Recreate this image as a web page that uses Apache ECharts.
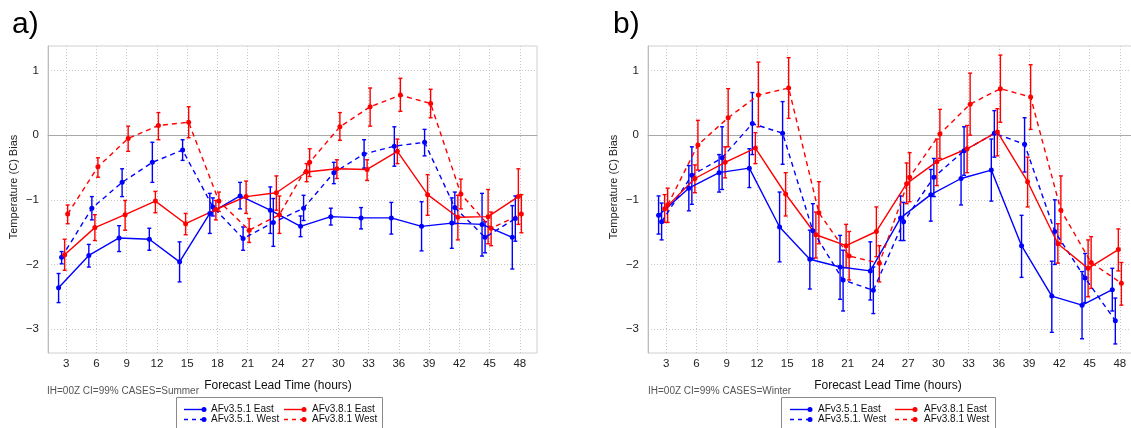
<!DOCTYPE html>
<html>
<head>
<meta charset="utf-8">
<script src="https://cdn.jsdelivr.net/npm/echarts@6/dist/echarts.min.js"></script>
<style>
  html, body { margin: 0; padding: 0; background: #ffffff; }
  #chart { width: 1131px; height: 428px; }
</style>
</head>
<body>
<div id="chart"></div>
<script>
// ---------------- DATA ----------------
const hours = [3, 6, 9, 12, 15, 18, 21, 24, 27, 30, 33, 36, 39, 42, 45, 48];
// small horizontal offset (hours) of each experiment around the lead time
const jitter = [-0.75, -0.45, -0.15, 0.15];
const yTicks = [-3, -2, -1, 0, 1];
const seriesNames = ['AFv3.5.1 East', 'AFv3.5.1. West', 'AFv3.8.1 East', 'AFv3.8.1 West'];
const panelLabels = ['a)', 'b)'];
const captions = ['IH=00Z CI=99% CASES=Summer', 'IH=00Z CI=99% CASES=Winter'];
const xTitle = 'Forecast Lead Time (hours)';
const yTitle = 'Temperature (C) Bias';

// Panel a (Summer)
const sumE351   = [-2.36, -1.86, -1.59, -1.61, -1.96, -1.21, -0.94, -1.16, -1.41, -1.26, -1.28, -1.28, -1.41, -1.36, -1.38, -1.58];
const sumE351Lo = [-2.59, -2.04, -1.80, -1.78, -2.27, -1.52, -1.14, -1.52, -1.57, -1.39, -1.45, -1.53, -1.79, -1.75, -1.87, -2.07];
const sumE351Hi = [-2.14, -1.69, -1.40, -1.44, -1.65, -0.90, -0.73, -0.80, -1.25, -1.13, -1.12, -1.04, -1.03, -0.97, -0.90, -1.09];

const sumW351   = [-1.89, -1.13, -0.73, -0.42, -0.23, -1.11, -1.60, -1.35, -1.13, -0.58, -0.29, -0.17, -0.11, -1.12, -1.58, -1.29];
const sumW351Lo = [-1.99, -1.31, -0.95, -0.73, -0.39, -1.25, -1.78, -1.72, -1.32, -0.75, -0.51, -0.48, -0.32, -1.37, -1.82, -1.64];
const sumW351Hi = [-1.80, -0.95, -0.52, -0.11, -0.07, -0.97, -1.42, -0.98, -0.93, -0.42, -0.07, 0.13, 0.09, -0.88, -1.34, -0.94];

const sumE381   = [-1.85, -1.43, -1.23, -1.02, -1.37, -1.15, -0.95, -0.89, -0.57, -0.52, -0.53, -0.25, -0.92, -1.27, -1.26, -0.95];
const sumE381Lo = [-2.09, -1.63, -1.47, -1.20, -1.54, -1.31, -1.21, -1.16, -0.72, -0.67, -0.70, -0.44, -1.24, -1.62, -1.68, -1.38];
const sumE381Hi = [-1.61, -1.23, -1.01, -0.87, -1.21, -1.01, -0.71, -0.63, -0.44, -0.38, -0.38, -0.06, -0.61, -0.93, -0.84, -0.52];

const sumW381   = [-1.22, -0.49, -0.05, 0.15, 0.20, -1.02, -1.47, -1.23, -0.42, 0.13, 0.44, 0.62, 0.49, -0.91, -1.44, -1.22];
const sumW381Lo = [-1.37, -0.65, -0.25, -0.07, -0.04, -1.18, -1.66, -1.52, -0.64, -0.08, 0.14, 0.37, 0.27, -1.14, -1.71, -1.51];
const sumW381Hi = [-1.08, -0.35, 0.14, 0.35, 0.44, -0.88, -1.29, -0.94, -0.21, 0.35, 0.73, 0.88, 0.71, -0.68, -1.19, -0.92];

// Panel b (Winter)
const winE351   = [-1.24, -0.82, -0.58, -0.51, -1.42, -1.92, -2.04, -2.10, -1.28, -0.92, -0.67, -0.54, -1.71, -2.49, -2.63, -2.39];
const winE351Lo = [-1.53, -1.17, -0.88, -0.81, -1.96, -2.38, -2.54, -2.55, -1.63, -1.33, -1.08, -1.02, -2.20, -3.05, -3.15, -2.72];
const winE351Hi = [-0.94, -0.47, -0.30, -0.21, -0.88, -1.47, -1.55, -1.65, -0.94, -0.53, -0.25, -0.06, -1.24, -1.95, -2.11, -2.06];

const winW351   = [-1.34, -0.62, -0.35, 0.18, 0.03, -1.48, -2.24, -2.40, -1.34, -0.65, -0.24, 0.03, -0.14, -1.49, -2.21, -2.87];
const winW351Lo = [-1.62, -1.07, -0.84, -0.30, -0.45, -1.91, -2.72, -2.76, -1.63, -0.95, -0.62, -0.34, -0.57, -2.00, -2.59, -3.23];
const winW351Hi = [-1.05, -0.18, 0.13, 0.66, 0.52, -1.06, -1.78, -2.04, -1.04, -0.36, 0.13, 0.38, 0.27, -1.00, -1.83, -2.52];

const winE381   = [-1.14, -0.67, -0.42, -0.20, -0.91, -1.54, -1.71, -1.49, -0.75, -0.41, -0.21, 0.05, -0.72, -1.68, -2.06, -1.77];
const winE381Lo = [-1.35, -0.89, -0.66, -0.44, -1.25, -1.90, -2.05, -1.88, -1.06, -0.78, -0.58, -0.32, -1.11, -1.98, -2.50, -2.10];
const winE381Hi = [-0.92, -0.46, -0.18, 0.04, -0.58, -1.19, -1.38, -1.11, -0.43, -0.06, 0.15, 0.41, -0.34, -1.37, -1.62, -1.45];

const winW381   = [-1.08, -0.15, 0.27, 0.62, 0.73, -1.20, -1.87, -1.98, -0.65, 0.02, 0.48, 0.72, 0.59, -1.16, -1.97, -2.29];
const winW381Lo = [-1.35, -0.54, -0.18, 0.13, 0.26, -1.68, -2.24, -2.27, -1.03, -0.36, 0.00, 0.20, 0.09, -1.68, -2.37, -2.63];
const winW381Hi = [-0.82, 0.23, 0.72, 1.13, 1.20, -0.72, -1.49, -1.71, -0.27, 0.40, 0.96, 1.24, 1.09, -0.63, -1.57, -1.97];

// ---------------- STYLE ----------------
const seriesColors = ['#0000ff', '#0000ff', '#ff0000', '#ff0000'];
const seriesDashes = ['solid', [5, 4], 'solid', [5, 4]];
const fontFam = '"Liberation Sans", Arial, Helvetica, sans-serif';

const panels = [
  [[sumE351, sumE351Lo, sumE351Hi], [sumW351, sumW351Lo, sumW351Hi], [sumE381, sumE381Lo, sumE381Hi], [sumW381, sumW381Lo, sumW381Hi]],
  [[winE351, winE351Lo, winE351Hi], [winW351, winW351Lo, winW351Hi], [winE381, winE381Lo, winE381Hi], [winW381, winW381Lo, winW381Hi]]
];

const gridLefts = [48, 648];
const fmtMinus = v => (v < 0 ? '\u2212' + Math.abs(v) : String(v));

const grids = [], xAxes = [], yAxes = [], series = [];
panels.forEach((panel, p) => {
  grids.push({ left: gridLefts[p], top: 46, width: 489, height: 307, show: true, borderColor: '#d0d0d0', borderWidth: 1, containLabel: false, outerBoundsMode: 'none' });
  xAxes.push({
    type: 'value', gridIndex: p, min: 1.2, max: 49.7,
    axisLine: { show: true, lineStyle: { color: '#bdbdbd', width: 1 } },
    axisTick: { show: false, customValues: hours },
    axisLabel: { customValues: hours, color: '#222', fontSize: 11.5, fontFamily: fontFam, margin: 5 },
    splitLine: { show: true, lineStyle: { color: '#c4c4c4', type: [1, 2], width: 1 } }
  });
  yAxes.push({
    type: 'value', gridIndex: p, min: -3.37, max: 1.38,
    axisLine: { show: true, lineStyle: { color: '#bdbdbd', width: 1 } },
    axisTick: { show: false, customValues: yTicks },
    axisLabel: { customValues: yTicks, color: '#222', fontSize: 11.5, fontFamily: fontFam, margin: 9, formatter: fmtMinus },
    splitLine: { show: true, lineStyle: { color: '#c4c4c4', type: [1, 2], width: 1 } }
  });
  panel.forEach((trip, k) => {
    const [vals, lo, hi] = trip;
    const color = seriesColors[k];
    series.push({
      type: 'custom', name: seriesNames[k] + ' CI', xAxisIndex: p, yAxisIndex: p,
      data: hours.map((h, i) => [h + jitter[k], lo[i], hi[i]]),
      encode: { x: 0, y: [1, 2] },
      z: 3, silent: true,
      renderItem: (params, api) => {
        const x = api.value(0);
        const a = api.coord([x, api.value(1)]);
        const b = api.coord([x, api.value(2)]);
        const w = 2;
        const st = { stroke: color, lineWidth: 1.4 };
        return { type: 'group', children: [
          { type: 'line', shape: { x1: a[0], y1: a[1], x2: b[0], y2: b[1] }, style: st },
          { type: 'line', shape: { x1: a[0] - w, y1: a[1], x2: a[0] + w, y2: a[1] }, style: st },
          { type: 'line', shape: { x1: b[0] - w, y1: b[1], x2: b[0] + w, y2: b[1] }, style: st }
        ] };
      }
    });
    const line = {
      type: 'line', name: seriesNames[k], xAxisIndex: p, yAxisIndex: p,
      data: hours.map((h, i) => [h + jitter[k], vals[i]]),
      symbol: 'circle', symbolSize: 5, showSymbol: true, z: 4,
      lineStyle: { color: color, width: 1.4, type: seriesDashes[k] },
      itemStyle: { color: color }
    };
    if (k === 0) {
      line.markLine = {
        silent: true, symbol: ['none', 'none'], label: { show: false },
        lineStyle: { color: '#a8a8a8', type: 'solid', width: 1.2 },
        data: [{ yAxis: 0 }], z: 1, animation: false
      };
    }
    series.push(line);
  });
});

// ---------------- GRAPHIC (titles, captions, legend) ----------------
const graphic = [];
const titleX = [12, 613];
const yTitleX = [13.5, 613.5];
const xTitleX = [278, 888];
const captionX = [47, 648];
const legendBox = [[176, 206], [781, 214]];
const legendCols = [[[184, 211], [284, 312]], [[790, 818], [895, 924]]];
const legendOrder = [[0, 2], [1, 3]]; // rows -> series index per column

for (let p = 0; p < 2; p++) {
  graphic.push({ type: 'text', x: titleX[p], y: 25, style: { text: panelLabels[p], font: '30px ' + fontFam, fill: '#000', textVerticalAlign: 'middle' } });
  graphic.push({ type: 'text', x: yTitleX[p], y: 187, rotation: Math.PI / 2, style: { text: yTitle, font: '11px ' + fontFam, fill: '#222', textAlign: 'center', textVerticalAlign: 'middle' } });
  graphic.push({ type: 'text', x: xTitleX[p], y: 386, style: { text: xTitle, font: '12px ' + fontFam, fill: '#111', textAlign: 'center', textVerticalAlign: 'middle' } });
  graphic.push({ type: 'text', x: captionX[p], y: 391, style: { text: captions[p], font: '10px ' + fontFam, fill: '#555', textVerticalAlign: 'middle' } });
  graphic.push({ type: 'rect', shape: { x: legendBox[p][0] + 0.5, y: 397.5, width: legendBox[p][1], height: 40 }, style: { fill: '#fff', stroke: '#8a8a8a', lineWidth: 1 } });
  legendOrder.forEach((row, r) => {
    const yy = 409.5 + r * 10;
    row.forEach((k, c) => {
      const [lx, tx] = legendCols[p][c];
      graphic.push({ type: 'line', shape: { x1: lx, y1: yy, x2: lx + 20, y2: yy }, style: { stroke: seriesColors[k], lineWidth: 1.4, lineDash: seriesDashes[k] === 'solid' ? null : [4, 4] } });
      graphic.push({ type: 'circle', shape: { cx: lx + 20, cy: yy, r: 2.5 }, style: { fill: seriesColors[k] } });
      graphic.push({ type: 'text', x: tx, y: yy, style: { text: seriesNames[k], font: '10px ' + fontFam, fill: '#111', textVerticalAlign: 'middle' } });
    });
  });
}

const chart = echarts.init(document.getElementById('chart'), null, { renderer: 'canvas' });
chart.setOption({
  animation: false,
  backgroundColor: '#ffffff',
  grid: grids,
  xAxis: xAxes,
  yAxis: yAxes,
  series: series,
  graphic: graphic
});
</script>
</body>
</html>
